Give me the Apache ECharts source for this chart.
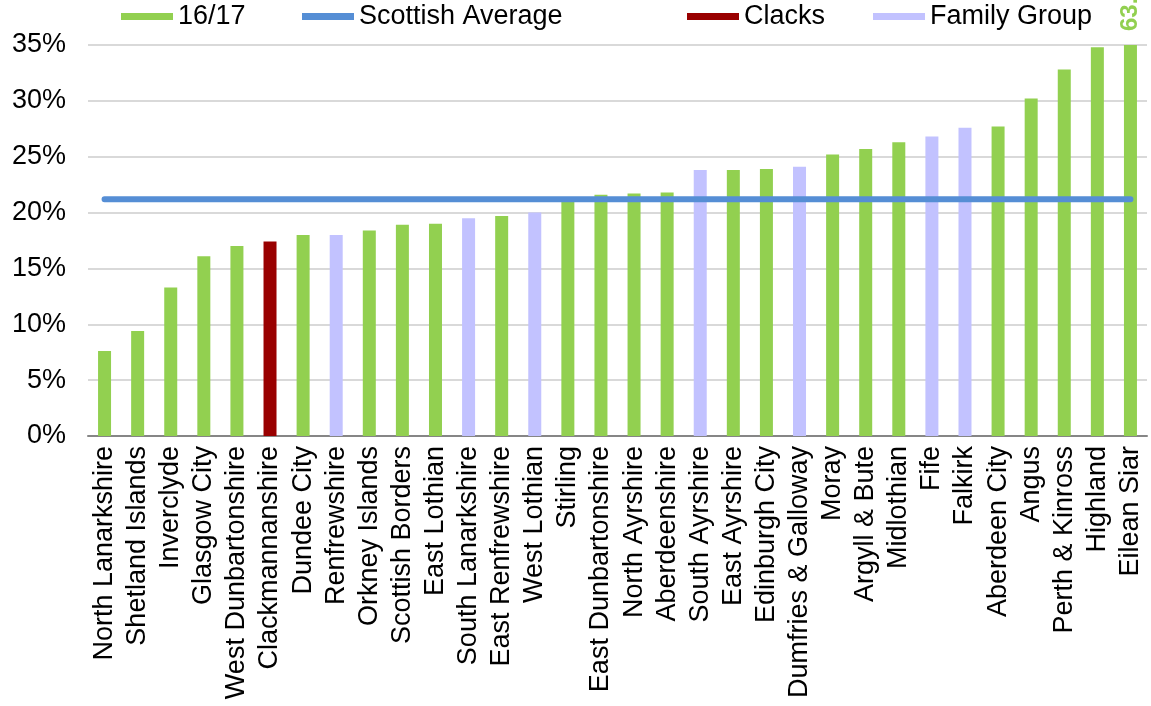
<!DOCTYPE html>
<html>
<head>
<meta charset="utf-8">
<title>16/17 by council</title>
<script src="https://cdn.jsdelivr.net/npm/echarts@6/dist/echarts.min.js"></script>
<style>
  html, body { margin: 0; padding: 0; background: #fff; }
  #chart { width: 1151px; height: 706px; }
</style>
</head>
<body>
<div id="chart"></div>
<script>
// councils in chart order (ascending)
const councils = [
  'North Lanarkshire', 'Shetland Islands', 'Inverclyde', 'Glasgow City',
  'West Dunbartonshire', 'Clackmannanshire', 'Dundee City', 'Renfrewshire',
  'Orkney Islands', 'Scottish Borders', 'East Lothian', 'South Lanarkshire',
  'East Renfrewshire', 'West Lothian', 'Stirling', 'East Dunbartonshire',
  'North Ayrshire', 'Aberdeenshire', 'South Ayrshire', 'East Ayrshire',
  'Edinburgh City', 'Dumfries & Galloway', 'Moray', 'Argyll & Bute',
  'Midlothian', 'Fife', 'Falkirk', 'Aberdeen City', 'Angus',
  'Perth & Kinross', 'Highland', 'Eilean Siar'
]
// 16/17 values, percent
const rates = [
  7.6, 9.4, 13.3, 16.1, 17.0, 17.4, 18.0, 18.0,
  18.4, 18.9, 19.0, 19.5, 19.7, 20.0, 21.1, 21.6,
  21.7, 21.8, 23.8, 23.8, 23.9, 24.1, 25.2, 25.7,
  26.3, 26.8, 27.6, 27.7, 30.2, 32.8, 34.8, 63.4
]
const scottishAverage = 21.2
const clacks = ['Clackmannanshire']
const familyGroup = [
  'Renfrewshire', 'South Lanarkshire', 'West Lothian', 'South Ayrshire',
  'Dumfries & Galloway', 'Fife', 'Falkirk'
]
const labelled = ['Eilean Siar']

const FONT = "'Liberation Sans', Arial, sans-serif"
const colors = {
  main: '#92D050',
  avg: '#558ED5',
  clacks: '#990000',
  family: '#C2C2FF'
}

const chart = echarts.init(document.getElementById('chart'))

const mainData = councils.map((c, i) => {
  if (clacks.includes(c) || familyGroup.includes(c)) return '-'
  if (labelled.includes(c)) {
    return {
      value: rates[i],
      label: {
        show: true,
        position: 'top',
        distance: 14,
        rotate: 90,
        align: 'left',
        verticalAlign: 'middle',
        color: colors.main,
        fontWeight: 'bold',
        fontSize: 24,
        fontFamily: FONT,
        formatter: p => p.value.toFixed(1) + '%'
      }
    }
  }
  return rates[i]
})
const clacksData = councils.map((c, i) => clacks.includes(c) ? rates[i] : '-')
const familyData = councils.map((c, i) => familyGroup.includes(c) ? rates[i] : '-')
const avgData = councils.map(() => scottishAverage)

const legendBase = {
  top: 3,
  padding: 0,
  itemWidth: 52,
  itemHeight: 7,
  itemGap: 0,
  textStyle: { fontSize: 27, fontFamily: FONT, color: '#000' }
}

const option = {
  animation: false,
  textStyle: { fontFamily: FONT },
  legend: [
    { ...legendBase, left: 121, data: [{ name: '16/17', icon: 'rect' }] },
    { ...legendBase, left: 302, data: [{ name: 'Scottish Average', icon: 'rect' }] },
    { ...legendBase, left: 687, data: [{ name: 'Clacks', icon: 'rect' }] },
    { ...legendBase, left: 873, data: [{ name: 'Family Group', icon: 'rect' }] }
  ],
  grid: {
    left: 88,
    right: 4,
    top: 45,
    bottom: 270
  },
  xAxis: {
    type: 'category',
    data: councils,
    axisLine: { lineStyle: { color: '#868686', width: 2 } },
    axisTick: { length: 7, lineStyle: { color: '#868686', width: 2 } },
    axisLabel: {
      interval: 0,
      rotate: 90,
      margin: 10,
      fontSize: 27,
      fontFamily: FONT,
      color: '#000'
    }
  },
  yAxis: {
    type: 'value',
    min: 0,
    max: 35,
    interval: 5,
    axisLine: { show: false },
    axisTick: { show: false },
    axisLabel: {
      formatter: '{value}%',
      margin: 22,
      fontSize: 27,
      fontFamily: FONT,
      color: '#000'
    },
    splitLine: { lineStyle: { color: '#D9D9D9', width: 2 } }
  },
  series: [
    {
      name: '16/17',
      type: 'bar',
      barWidth: 13,
      barGap: '-100%',
      itemStyle: { color: colors.main },
      data: mainData
    },
    {
      name: 'Clacks',
      type: 'bar',
      barWidth: 13,
      barGap: '-100%',
      itemStyle: { color: colors.clacks },
      data: clacksData
    },
    {
      name: 'Family Group',
      type: 'bar',
      barWidth: 13,
      barGap: '-100%',
      itemStyle: { color: colors.family },
      data: familyData
    },
    {
      name: 'Scottish Average',
      type: 'line',
      symbol: 'none',
      z: 5,
      lineStyle: { color: colors.avg, width: 6, cap: 'round' },
      itemStyle: { color: colors.avg },
      data: avgData
    }
  ]
}

chart.setOption(option)
</script>
</body>
</html>
